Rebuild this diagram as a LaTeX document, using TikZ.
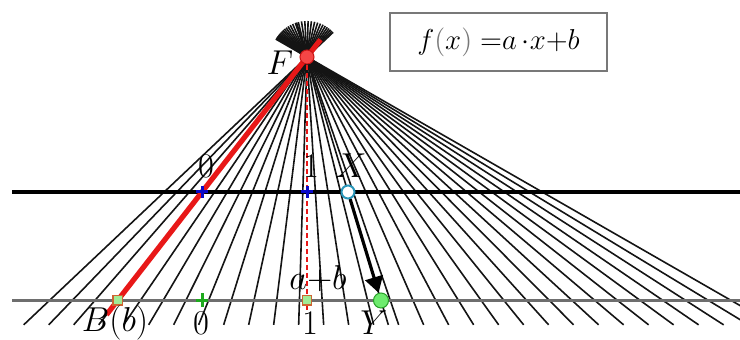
\documentclass[tikz,border=0pt]{standalone}
\usetikzlibrary{calc,arrows.meta}
\definecolor{lowgray}{RGB}{110,110,110}
\definecolor{redline}{RGB}{232,24,24}
\definecolor{ffill}{RGB}{245,70,70}
\definecolor{fdraw}{RGB}{200,20,20}
\definecolor{xdraw}{RGB}{40,150,185}
\definecolor{yfill}{RGB}{110,235,110}
\definecolor{ydraw}{RGB}{40,160,40}
\definecolor{sqfill}{RGB}{160,235,150}
\definecolor{sqdraw}{RGB}{205,100,50}
\definecolor{plusblue}{RGB}{10,10,200}
\definecolor{plusgreen}{RGB}{30,170,30}
\definecolor{boxgray}{RGB}{120,120,120}
\tikzset{
  fanline/.style={line width=0.8pt, black!92},
  upperline/.style={line width=1.6pt, black},
  lowerline/.style={line width=1.8pt, lowgray},
  redthick/.style={line width=2.6pt, redline},
  reddash/.style={line width=0.8pt, redline, dash pattern=on 2.5pt off 1.5pt},
  ptF/.style={circle, minimum size=7pt, inner sep=0pt, fill=ffill, draw=fdraw, line width=0.5pt},
  ptX/.style={circle, minimum size=6.5pt, inner sep=0pt, fill=white, draw=xdraw, line width=1pt},
  ptY/.style={circle, minimum size=7.5pt, inner sep=0pt, fill=yfill, draw=ydraw, line width=0.5pt},
  ptsq/.style={rectangle, minimum size=4.6pt, inner sep=0pt, fill=sqfill, draw=sqdraw, line width=0.6pt},
  lbl/.style={inner sep=0pt, font=\fontsize{17}{20}\selectfont},
  mapsto/.style={line width=1.6pt, black, -{Triangle[length=8pt,width=9pt]}},
  plusmark/.style={line width=1.5pt},
}
\begin{document}
\begin{tikzpicture}[x=0.5pt,y=-0.5pt]
\useasboundingbox (0,0) rectangle (740,340);
% key points
\coordinate (F) at (307,57);
\coordinate (U0) at (202,192);
\coordinate (U1) at (307,192);
\coordinate (Xc) at (348,192);
\coordinate (Bc) at (117.6,300.5);
\coordinate (L0) at (202,300.5);
\coordinate (L1) at (307,300.5);
\coordinate (Yc) at (381,300.5);
\coordinate (ul) at (12,192);
\coordinate (ur) at (740,192);
\coordinate (ll) at (12,300.5);
\coordinate (lr) at (740,300.5);
% fan of lines through F
\begin{scope}
\clip (0,0) rectangle (740,340);
\foreach \k in {-3,...,27}{
  \pgfmathsetmacro\ux{202+12.6*\k}
  \coordinate (P) at (\ux,192);
  \draw[fanline] ($(F)!-18pt!(P)$) -- ($(F)!1.984!(P)$);
}
\draw[fanline] ($(F)!-18pt!(Xc)$) -- ($(F)!1.984!(Xc)$);
\end{scope}
% the two number lines
\draw[upperline] (ul) -- (ur);
\draw[lowerline] (ll) -- (lr);
% red line and dashed vertical
\draw[redthick] ($(F)!-11pt!(Bc)$) -- ($(Bc)!-9pt!(F)$);
\draw[reddash] (F) -- ($(L1)+(0,10)$);
% plus markers
\draw[plusblue, plusmark] ($(U0)+(-6,0)$) -- ($(U0)+(6,0)$) ($(U0)+(0,-6)$) -- ($(U0)+(0,6)$);
\draw[plusblue, plusmark] ($(U1)+(-6,0)$) -- ($(U1)+(6,0)$) ($(U1)+(0,-6)$) -- ($(U1)+(0,6)$);
\draw[plusgreen, plusmark] ($(L0)+(-6,0)$) -- ($(L0)+(6,0)$) ($(L0)+(0,-7)$) -- ($(L0)+(0,7)$);
% points
\node[ptF] (Fp) at (F) {};
\node[ptX] (X) at (Xc) {};
\node[ptY] (Y) at (Yc) {};
\node[ptsq] (B) at (Bc) {};
\node[ptsq] (AB) at (L1) {};
% arrow X -> Y
\draw[mapsto] (X) -- (Y);
% labels
\node[lbl] (lF) at (280,63) {$F$};
\node[lbl] (lu0) at (206,166) {$0$};
\node[lbl] (lu1) at (311,166) {$1$};
\node[lbl] (lX) at (351,166) {$X$};
\node[lbl] (lab) at (318,279) {$a{+}b$};
\node[lbl] (lB) at (115,323) {$B(b)$};
\node[lbl] (l0) at (201,323) {$0$};
\node[lbl] (l1) at (310,323) {$1$};
\node[lbl] (lY) at (374,323) {$Y$};
% formula box
\node[draw=boxgray, line width=0.75pt, fill=white, minimum width=108.5pt, minimum height=29pt, inner sep=0pt, font=\fontsize{15.5}{18}\selectfont] (formula) at (498.5,42) {$f\textcolor{boxgray}{(}x\textcolor{boxgray}{)}\;{=}a\,{\cdot}x{+}b$};
\end{tikzpicture}
\end{document}
